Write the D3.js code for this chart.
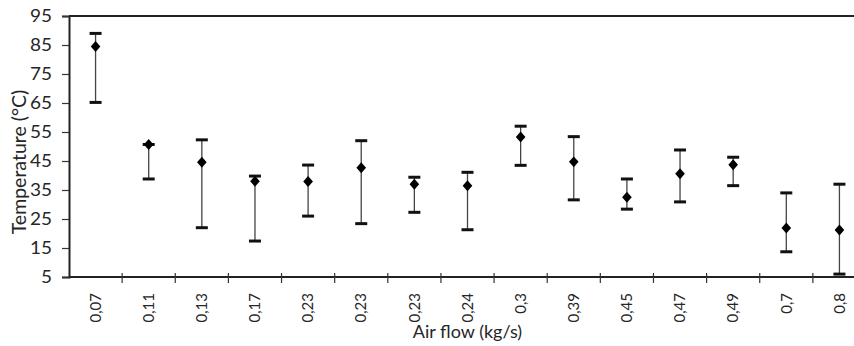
<!DOCTYPE html>
<html>
<head>
<meta charset="utf-8">
<script src="https://cdn.jsdelivr.net/npm/d3@7"></script>
<style>
  body { margin: 0; background: #fff; }
  text { font-family: Lato, "Open Sans", sans-serif; fill: #262626; }
</style>
</head>
<body>
<div id="chart"></div>
<script>
// Air flow categories (x axis, one per measurement)
var flows = ["0,07", "0,11", "0,13", "0,17", "0,23", "0,23", "0,23", "0,24", "0,3", "0,39", "0,45", "0,47", "0,49", "0,7", "0,8"];
// mean temperature (diamonds)
var meanTemp = [84.5, 50.7, 44.6, 38, 37.9, 42.7, 37, 36.5, 53.3, 44.7, 32.5, 40.6, 43.7, 21.9, 21.2];
// error bar ends
var maxTemp = [89, 50.7, 52.3, 39.8, 43.6, 52, 39.4, 41.1, 57, 53.4, 38.8, 48.8, 46.3, 34, 37];
var minTemp = [65.2, 38.8, 22, 17.4, 26, 23.4, 27.3, 21.3, 43.5, 31.6, 28.4, 30.9, 36.5, 13.7, 6];
var yTicks = [5, 15, 25, 35, 45, 55, 65, 75, 85, 95];

var width = 854,
    height = 346,
    plotLeft = 69,
    plotRight = 866,
    plotTop = 16,
    plotBottom = 277;

var svg = d3.select("#chart").append("svg")
    .attr("width", width)
    .attr("height", height);

var x = d3.scaleBand()
    .domain(d3.range(flows.length))
    .range([plotLeft, plotRight])
    .padding(0);

var y = d3.scaleLinear()
    .domain([5, 95])
    .range([plotBottom, plotTop]);

// top border
svg.append("line")
    .attr("x1", plotLeft).attr("x2", width)
    .attr("y1", y(95)).attr("y2", y(95))
    .attr("stroke", "#222").attr("stroke-width", 2);

// y axis
var yAxis = svg.append("g")
    .attr("transform", "translate(" + plotLeft + ",0)")
    .call(d3.axisLeft(y).tickValues(yTicks).tickSize(7).tickPadding(10));
yAxis.select(".domain").attr("stroke", "#222").attr("stroke-width", 2);
yAxis.selectAll(".tick line").attr("stroke", "#333").attr("stroke-width", 1.2);
// labels are a bit wider than the font, stretch them
yAxis.selectAll(".tick text")
    .attr("x", -17 / 1.15)
    .attr("transform", "scale(1.15,1)")
    .style("font-size", "16.5px")
    .attr("fill", "#262626");

// x axis (ticks between categories, crossing the axis line)
svg.append("line")
    .attr("x1", plotLeft).attr("x2", width)
    .attr("y1", plotBottom).attr("y2", plotBottom)
    .attr("stroke", "#222").attr("stroke-width", 2);

svg.append("g").selectAll("line")
    .data(d3.range(1, flows.length))
    .enter().append("line")
    .attr("x1", function(i) { return x(i); })
    .attr("x2", function(i) { return x(i); })
    .attr("y1", plotBottom - 4)
    .attr("y2", plotBottom + 6)
    .attr("stroke", "#333").attr("stroke-width", 1.2);

svg.append("g").selectAll("text")
    .data(flows)
    .enter().append("text")
    .attr("transform", function(d, i) {
        return "translate(" + (x(i) + x.bandwidth() / 2) + "," + (plotBottom + 16) + ") rotate(-90)";
    })
    .attr("dy", "0.35em")
    .attr("text-anchor", "end")
    .style("font-size", "15px")
    .text(function(d) { return d; });

// axis titles
svg.append("text")
    .attr("x", (plotLeft + plotRight) / 2)
    .attr("y", 338)
    .attr("text-anchor", "middle")
    .style("font-size", "18px")
    .text("Air flow (kg/s)");

svg.append("text")
    .attr("transform", "translate(26,162) rotate(-90)")
    .attr("text-anchor", "middle")
    .style("font-size", "19.5px")
    .text("Temperature (°C)");

// error bars
var bars = svg.append("g").selectAll("g")
    .data(flows)
    .enter().append("g")
    .attr("transform", function(d, i) { return "translate(" + (x(i) + x.bandwidth() / 2) + ",0)"; });

bars.append("line")
    .attr("y1", function(d, i) { return y(maxTemp[i]); })
    .attr("y2", function(d, i) { return y(minTemp[i]); })
    .attr("stroke", "#444").attr("stroke-width", 1.3);

bars.append("line")
    .attr("x1", -6).attr("x2", 6)
    .attr("y1", function(d, i) { return y(maxTemp[i]); })
    .attr("y2", function(d, i) { return y(maxTemp[i]); })
    .attr("stroke", "#111").attr("stroke-width", 3);

bars.append("line")
    .attr("x1", -6).attr("x2", 6)
    .attr("y1", function(d, i) { return y(minTemp[i]); })
    .attr("y2", function(d, i) { return y(minTemp[i]); })
    .attr("stroke", "#111").attr("stroke-width", 3);

// diamond markers
var diamond = d3.symbol().type(d3.symbolSquare).size(60);
bars.append("path")
    .attr("d", diamond)
    .attr("transform", function(d, i) { return "translate(0," + y(meanTemp[i]) + ") scale(0.88,1) rotate(45)"; })
    .attr("fill", "#000");
</script>
</body>
</html>
